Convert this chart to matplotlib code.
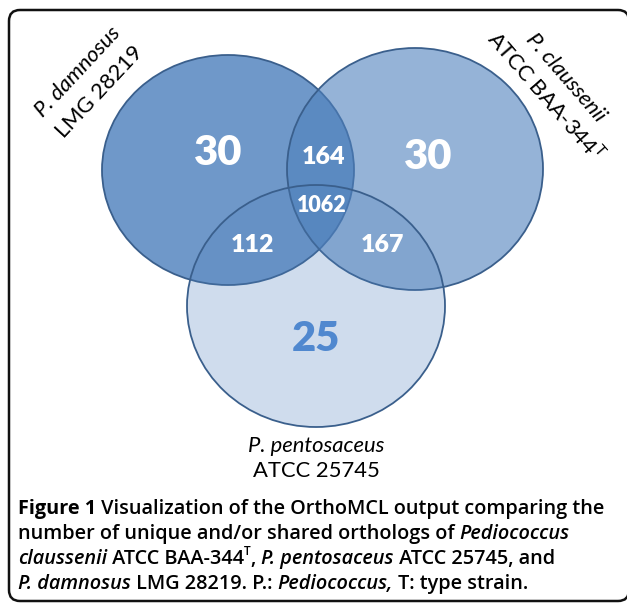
import matplotlib.pyplot as plt
from matplotlib.patches import Ellipse, FancyBboxPatch

# ortholog counts per region
unique_counts = [30, 30, 25]          # damnosus, claussenii, pentosaceus
pair_counts = [164, 112, 167]         # dam&cla, dam&pen, cla&pen
core_count = 1062

set_names = ["P. damnosus", "P. claussenii", "P. pentosaceus"]
set_strains = ["LMG 28219", "ATCC BAA-344$^{\\mathrm{T}}$", "ATCC 25745"]
set_alpha = [0.82, 0.60, 0.27]

caption_lines = [
    [("Figure 1", "bold"), (" Visualization of the OrthoMCL output comparing the", "semi")],
    [("number of unique and/or shared orthologs of ", "semi"), ("Pediococcus", "it")],
    [("claussenii", "it"), (" ATCC BAA-344", "semi"), ("T", "sup"), (", ", "semi"),
     ("P. pentosaceus", "it"), (" ATCC 25745, and", "semi")],
    [("P. damnosus", "it"), (" LMG 28219. P.: ", "semi"), ("Pediococcus,", "it"),
     (" T: type strain.", "semi")],
]

plt.rcParams['mathtext.fontset'] = 'custom'
plt.rcParams['mathtext.rm'] = 'Lato'

W, H = 627, 605
fig = plt.figure(figsize=(W / 100, H / 100), dpi=100)
ax = fig.add_axes([0, 0, 1, 1])
ax.set_xlim(0, W)
ax.set_ylim(H, 0)
ax.axis('off')

# frame
ax.add_patch(FancyBboxPatch((9, 10), 620, 591, boxstyle="round,pad=0,rounding_size=11",
                            facecolor='white', edgecolor='#111111', lw=1.8))

base = (79 / 255, 129 / 255, 189 / 255)
centers = [(228, 170), (415, 169), (316, 306)]
radii = [(126, 115), (128, 121), (129, 121)]
for (cx, cy), (rx, ry), a in zip(centers, radii, set_alpha):
    ax.add_patch(Ellipse((cx, cy), 2 * rx, 2 * ry, facecolor=base + (a,),
                         edgecolor='#3a5f8c', lw=1.3))

num_font = dict(family='Lato', fontweight='heavy', ha='center', va='center')
ax.text(218, 153, str(unique_counts[0]), fontsize=30, color='white', **num_font)
ax.text(428, 157, str(unique_counts[1]), fontsize=30, color='white', **num_font)
ax.text(316, 339, str(unique_counts[2]), fontsize=30, color='#5088cf', **num_font)
ax.text(324, 157, str(pair_counts[0]), fontsize=18, color='white', **num_font)
ax.text(253, 245, str(pair_counts[1]), fontsize=18, color='white', **num_font)
ax.text(382, 245, str(pair_counts[2]), fontsize=18, color='white', **num_font)
ax.text(322, 205, str(core_count), fontsize=15.5, color='white', **num_font)

lab = dict(family='Lato', fontsize=15.8, ha='center', va='center', rotation_mode='anchor')
ax.text(78, 72, set_names[0], style='italic', rotation=47, **lab)
ax.text(100, 92, set_strains[0], rotation=47, **lab)
ax.text(566, 78, set_names[1], style='italic', rotation=-49, **lab)
ax.text(546, 96, set_strains[1], rotation=-49, **lab)
ax.text(316, 446, set_names[2], style='italic', **lab)
ax.text(316, 471, set_strains[2], **lab)

# caption, drawn piece by piece
renderer = fig.canvas.get_renderer()
cap_size = 14.3


def piece_width(txt, kw):
    t1 = ax.text(0, 0, "|" + txt + "|", **kw)
    t2 = ax.text(0, 0, "||", **kw)
    w = t1.get_window_extent(renderer).width - t2.get_window_extent(renderer).width
    t1.remove()
    t2.remove()
    return w


for i, line in enumerate(caption_lines):
    x = 18
    y = 514 + i * 25
    for txt, st in line:
        kw = dict(family='Open Sans', fontsize=cap_size, fontweight='semibold', va='baseline')
        dy = 0
        if st == "bold":
            kw['fontweight'] = 'bold'
        elif st == "it":
            kw['fontstyle'] = 'italic'
        elif st == "sup":
            kw['fontsize'] = cap_size * 0.6
            dy = -9
        ax.text(x, y + dy, txt, **kw)
        x += piece_width(txt, kw)

fig.savefig("out.png", dpi=100)
